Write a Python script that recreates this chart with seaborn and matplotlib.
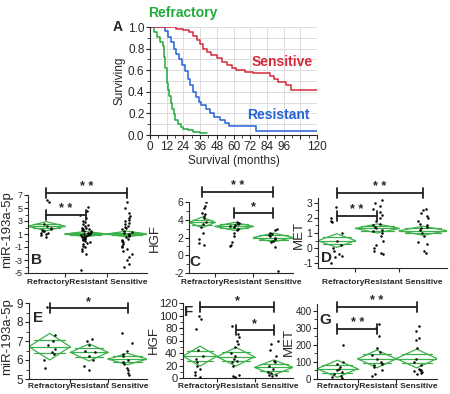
import numpy as np
import pandas as pd
import seaborn as sns
from matplotlib import pyplot as plt

# ---- Panel A: survival curves (months, fraction surviving) ----
refr_t = [0, 3, 5, 7, 9, 10, 11, 12, 13, 14, 15, 16, 17, 18, 20, 22, 24, 27, 31, 36, 41]
refr_s = [1.0, 0.95, 0.91, 0.86, 0.82, 0.72, 0.62, 0.48, 0.42, 0.36, 0.30, 0.24, 0.19, 0.14,
          0.10, 0.07, 0.06, 0.05, 0.03, 0.015, 0.015]
resi_t = [0, 11, 13, 15, 17, 19, 21, 23, 25, 27, 29, 31, 33, 35, 37, 40, 43, 46, 50, 54, 57, 76, 120]
resi_s = [1.0, 0.96, 0.91, 0.86, 0.80, 0.75, 0.70, 0.65, 0.59, 0.52, 0.46, 0.40, 0.35, 0.31,
          0.28, 0.24, 0.20, 0.17, 0.14, 0.11, 0.08, 0.04, 0.04]
sens_t = [0, 19, 24, 28, 31, 34, 36, 38, 41, 44, 48, 52, 55, 59, 62, 68, 74, 80, 86, 89, 92, 95,
          98, 101, 120]
sens_s = [1.0, 0.98, 0.97, 0.95, 0.92, 0.88, 0.84, 0.80, 0.77, 0.74, 0.71, 0.68, 0.65, 0.62,
          0.60, 0.58, 0.57, 0.57, 0.55, 0.52, 0.49, 0.49, 0.46, 0.42, 0.42]
x_ticks_a = [0, 12, 24, 36, 48, 60, 72, 84, 96, 108, 120]
x_labels_a = ['0', '12', '24', '36', '48', '60', '72', '84', '96', '', '120']

groups = ['Refractory', 'Resistant', 'Sensitive']

# ---- Panels B-G: individual values per group, group means and diamond half-heights ----
b_refr = [6.3, 5.9, 2.6, 2.3, 2.0, 1.8, 1.6, 1.4, 1.2, 1.0, 0.8, 0.6, 1.1, 1.5]
b_resi = [5.2, 4.6, 4.0, 3.4, 3.0, 2.8, 2.6, 2.4, 2.2, 2.0, 1.9, 1.8, 1.7, 1.6, 1.5, 1.4, 1.3,
          1.2, 1.1, 1.0, 1.0, 0.9, 0.8, 0.7, 0.6, 0.5, 0.4, 0.3, 0.2, 0.1, 0.0, -0.2, -0.4,
          -0.6, -0.8, -1.0, -1.3, -1.6, -2.0, -4.6]
b_sens = [6.0, 5.0, 4.3, 3.8, 3.5, 3.2, 3.0, 2.7, 2.5, 2.3, 2.1, 1.9, 1.7, 1.5, 1.3, 1.1, 1.0,
          0.9, 0.7, 0.5, 0.3, 0.1, -0.1, -0.3, -0.5, -0.8, -1.0, -1.3, -1.6, -2.0, -2.5, -3.0,
          -3.6, -4.0]
b_mean = [2.2, 1.0, 1.0]
b_ci = [0.7, 0.4, 0.45]

c_refr = [6.0, 5.5, 5.3, 4.8, 4.6, 4.4, 4.2, 3.8, 3.5, 3.2, 2.5, 1.8, 1.4, 1.2]
c_resi = [3.8, 3.6, 3.5, 3.4, 3.3, 3.2, 3.0, 2.8, 2.5, 2.2, 1.5, 1.2, 1.0]
c_sens = [3.0, 2.8, 2.5, 2.4, 2.3, 2.2, 2.0, 1.8, 1.6, 1.5, 0.9, -1.8]
c_mean = [3.7, 3.25, 2.0]
c_ci = [0.6, 0.45, 0.5]

d_refr = [2.7, 2.0, 1.8, 1.7, 1.0, 0.5, 0.2, 0.0, -0.2, -0.4, -0.5, -0.6, -1.0]
d_resi = [3.2, 3.0, 2.8, 2.6, 2.4, 2.2, 2.0, 1.8, 1.6, 1.5, 1.4, 1.3, 1.2, 1.1, 1.0, 0.8,
          0.5, 0.2, 0.0, -0.2, -0.3, -0.4]
d_sens = [2.6, 2.5, 2.3, 2.1, 2.0, 1.8, 1.6, 1.5, 1.4, 1.3, 1.2, 1.0, 0.8, 0.4, 0.3, -0.2, -0.3]
d_mean = [0.5, 1.3, 1.15]
d_ci = [0.45, 0.3, 0.3]

e_refr = [8.8, 7.3, 7.0, 6.8, 6.6, 6.4, 6.3, 6.0, 5.6]
e_resi = [7.1, 7.0, 6.8, 6.5, 6.4, 6.2, 6.0, 5.7, 5.5]
e_sens = [7.4, 6.9, 6.5, 6.3, 6.2, 6.0, 5.9, 5.8, 5.6, 5.5, 5.3, 5.2]
e_mean = [6.7, 6.4, 6.05]
e_ci = [0.7, 0.45, 0.3]

f_refr = [100, 95, 78, 45, 35, 30, 25, 20, 15, 10, 5, 2]
f_resi = [83, 70, 65, 60, 55, 50, 40, 35, 30, 28, 25, 20, 5, 3, 2]
f_sens = [60, 55, 45, 35, 28, 25, 20, 15, 10, 8, 5, 5, 3]
f_mean = [35, 34, 17]
f_ci = [16, 15, 12]

g_refr = [200, 100, 90, 70, 60, 50, 40, 30, 20, 10, 5]
g_resi = [320, 300, 250, 180, 160, 140, 120, 100, 90, 80, 70, 50, 30, 20]
g_sens = [310, 280, 240, 230, 180, 120, 100, 80, 60, 55, 50, 45, 40, 35, 30]
g_mean = [60, 118, 120]
g_ci = [50, 52, 55]

# ---- layout (pixels in a 450x394 figure) ----
W, H = 450, 394
GREEN = '#3cb04a'
C_REFR, C_RESI, C_SENS = '#22aa3a', '#2563d8', '#d42a3a'


def box(l, t, r, b):
    return [l / W, 1 - b / H, (r - l) / W, (b - t) / H]


def fx(x):
    return x / W


def fy(y):
    return 1 - y / H


sns.set_style('ticks')
plt.rcParams['font.family'] = ['Liberation Sans', 'DejaVu Sans']
np.random.seed(3)

fig = plt.figure(figsize=(4.5, 3.94), dpi=100)

# Panel A
axA = fig.add_axes(box(150, 27, 317, 135))
dfA = pd.concat([
    pd.DataFrame({'t': refr_t, 's': refr_s, 'g': 'Refractory'}),
    pd.DataFrame({'t': resi_t, 's': resi_s, 'g': 'Resistant'}),
    pd.DataFrame({'t': sens_t, 's': sens_s, 'g': 'Sensitive'}),
])
sns.lineplot(data=dfA, x='t', y='s', hue='g', palette=[C_REFR, C_RESI, C_SENS],
             drawstyle='steps-post', legend=False, ax=axA, linewidth=1.1)
axA.set_xlim(0, 120)
axA.set_ylim(0, 1.0)
axA.set_xticks(x_ticks_a)
axA.set_xticklabels(x_labels_a, fontsize=8.5)
axA.set_xticks(np.arange(0, 121, 6), minor=True)
axA.set_yticks(np.arange(0, 1.01, 0.2))
axA.set_yticklabels(['0.0', '0.2', '0.4', '0.6', '0.8', '1.0'], fontsize=8.5)
axA.set_yticks(np.arange(0, 1.01, 0.1), minor=True)
axA.grid(True, which='major', axis='x', color='#dcdcdc', lw=0.7)
axA.grid(True, which='both', axis='y', color='#dcdcdc', lw=0.7)
axA.tick_params(which='major', length=3, pad=1)
axA.tick_params(which='minor', length=2)
sns.despine(ax=axA)
axA.set_xlabel('Survival (months)', fontsize=8.5, labelpad=2)
axA.set_ylabel('Surviving', fontsize=8.5, labelpad=2)
fig.text(fx(118), fy(27), 'A', fontsize=10, fontweight='bold', ha='center', va='center')
fig.text(fx(183), fy(13), 'Refractory', color=C_REFR, fontsize=10, fontweight='bold',
         ha='center', va='center')
fig.text(fx(282), fy(62), 'Sensitive', color=C_SENS, fontsize=10, fontweight='bold',
         ha='center', va='center')
fig.text(fx(278), fy(115), 'Resistant', color=C_RESI, fontsize=10, fontweight='bold',
         ha='center', va='center')

panels = [
    dict(letter='B', pts=[b_refr, b_resi, b_sens], mean=b_mean, ci=b_ci, ylabel='miR-193a-5p',
         rect=(28, 195, 147, 273), ylim=(-5, 7), ticks=(-5, 7, 2), minor=1, bounds=[0, 0.31, 0.66, 1],
         tfs=6.5, brackets=[(0, 2, 7.3, '* *'), (0, 1, 3.9, '* *')], lpos=(37, 260), ypos=(7, 230)),
    dict(letter='C', pts=[c_refr, c_resi, c_sens], mean=c_mean, ci=c_ci, ylabel='HGF',
         rect=(189, 202, 293, 273), ylim=(-2, 6), ticks=(-2, 6, 2), minor=1, bounds=[0, 0.25, 0.62, 1],
         tfs=7.5, brackets=[(0, 2, 7.1, '* *'), (1, 2, 4.76, '*')], lpos=(195, 262), ypos=(155, 238)),
    dict(letter='D', pts=[d_refr, d_resi, d_sens], mean=d_mean, ci=d_ci, ylabel='MET',
         rect=(318, 198, 447, 268), ylim=(-1.3, 3.3), ticks=(-1, 3, 1), minor=0.5,
         bounds=[0, 0.29, 0.63, 1], tfs=7.5, brackets=[(0, 2, 3.66, '* *'), (0, 1, 2.15, '* *')],
         lpos=(326, 258), ypos=(299, 235)),
    dict(letter='E', pts=[e_refr, e_resi, e_sens], mean=e_mean, ci=e_ci, ylabel='miR-193a-5p',
         rect=(29, 303, 147, 379), ylim=(5, 9), ticks=(5, 9, 1), minor=0.5, bounds=[0, 0.35, 0.67, 1],
         tfs=8.5, brackets=[(0, 2, 8.74, '*')], lpos=(38, 318), ypos=(7, 337)),
    dict(letter='F', pts=[f_refr, f_resi, f_sens], mean=f_mean, ci=f_ci, ylabel='HGF',
         rect=(183, 303, 293, 378), ylim=(0, 120), ticks=(0, 120, 20), minor=10,
         bounds=[0, 0.31, 0.65, 1], tfs=8, brackets=[(0, 2, 113.6, '*'), (1, 2, 76.8, '*')],
         lpos=(189, 312), ypos=(154, 340)),
    dict(letter='G', pts=[g_refr, g_resi, g_sens], mean=g_mean, ci=g_ci, ylabel='MET',
         rect=(317, 304, 437, 379), ylim=(0, 440), ticks=(0, 400, 100), minor=50,
         bounds=[0, 0.34, 0.66, 1], tfs=7, brackets=[(0, 2, 423, '* *'), (0, 1, 294, '* *')],
         lpos=(325, 320), ypos=(289, 342)),
]

for p in panels:
    l, t, r, b = p['rect']
    ax = fig.add_axes(box(l, t, r, b))
    bnd = p['bounds']
    centers = [(bnd[i] + bnd[i + 1]) / 2 for i in range(3)]
    df = pd.DataFrame({
        'pos': np.concatenate([[c] * len(v) for c, v in zip(centers, p['pts'])]),
        'val': np.concatenate(p['pts']).astype(float),
    })
    sns.stripplot(data=df, x='pos', y='val', native_scale=True, orient='x', jitter=0.15,
                  color='black', size=1.8, linewidth=0, ax=ax, zorder=3)
    # mean diamonds
    for lo, hi, c, m, h in zip(bnd[:-1], bnd[1:], centers, p['mean'], p['ci']):
        w = hi - lo
        ax.plot([lo, c, hi, c, lo], [m, m + h, m, m - h, m], color=GREEN, lw=0.9, zorder=2)
        ax.plot([lo, hi], [m, m], color=GREEN, lw=0.9, zorder=2)
        for s in (1, -1):
            ax.plot([lo + 0.13 * w, hi - 0.13 * w], [m + s * 0.5 * h] * 2, color=GREEN, lw=0.9, zorder=2)
    ax.set_xlim(0, 1)
    ax.set_ylim(*p['ylim'])
    t0, t1, st = p['ticks']
    ax.set_yticks(np.arange(t0, t1 + st / 2, st))
    ax.set_yticklabels([f'{v:g}' for v in np.arange(t0, t1 + st / 2, st)], fontsize=p['tfs'])
    ax.set_yticks(np.arange(t0, t1 + st / 2, p['minor']), minor=True)
    ax.set_xticks(bnd[1:-1])
    ax.set_xticklabels([])
    ax.set_xlabel('')
    ax.set_ylabel('')
    ax.tick_params(which='major', length=3, pad=1, width=0.8)
    ax.tick_params(which='minor', length=2, width=0.6)
    sns.despine(ax=ax)
    # significance brackets
    yr = p['ylim'][1] - p['ylim'][0]
    tick = 5 * yr / (b - t)
    for g0, g1, yb, lab in p['brackets']:
        x0, x1 = centers[g0], centers[g1]
        ax.plot([x0, x1], [yb, yb], color='#222222', lw=1.3, clip_on=False, zorder=4)
        ax.plot([x0, x0], [yb - tick, yb + tick], color='#222222', lw=1.3, clip_on=False, zorder=4)
        ax.plot([x1, x1], [yb - tick, yb + tick], color='#222222', lw=1.3, clip_on=False, zorder=4)
        ax.annotate(lab, xy=((x0 + x1) / 2, yb), xytext=(0, 0), textcoords='offset points',
                    ha='center', va='bottom', fontsize=9, fontweight='bold', annotation_clip=False)
    fig.text(fx(p['lpos'][0]), fy(p['lpos'][1]), p['letter'], fontsize=11, fontweight='bold',
             ha='center', va='center')
    fig.text(fx(p['ypos'][0]), fy(p['ypos'][1]), p['ylabel'], fontsize=9.5, rotation=90,
             ha='center', va='center')
    ylab_row = 282 if b < 300 else 387
    fig.text(fx((l + r) / 2), fy(ylab_row), 'RefractoryResistant Sensitive', fontsize=6,
             fontweight='bold', ha='center', va='center')

fig.savefig('out.png', dpi=100)
